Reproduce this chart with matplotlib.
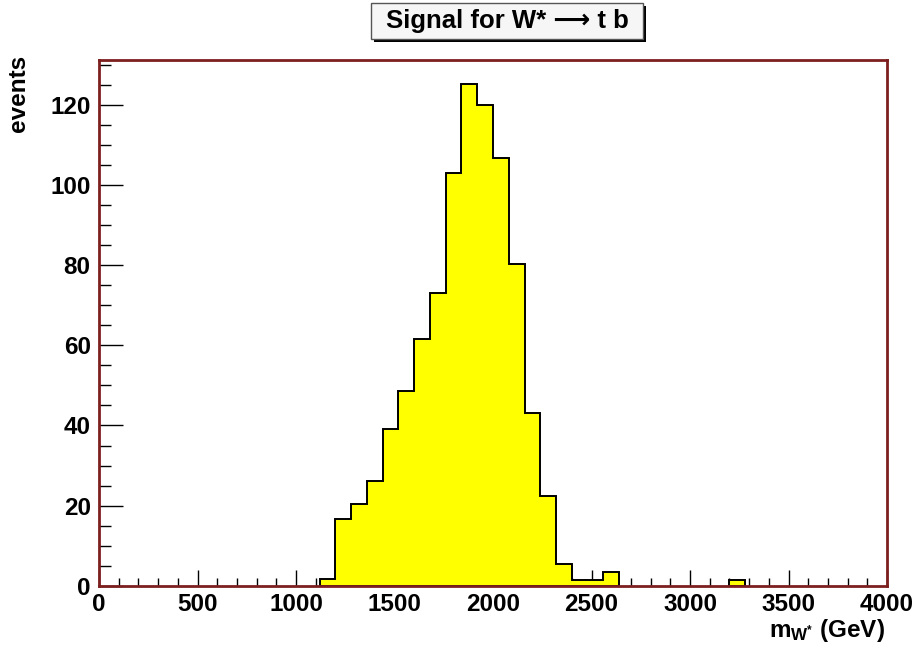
import numpy as np
import matplotlib
matplotlib.use("Agg")
import matplotlib.pyplot as plt
from matplotlib.patches import Rectangle
from matplotlib.ticker import MultipleLocator

# ---- data ----
bin_edges = np.arange(0, 4001, 80)
counts = np.zeros(50)
counts[14:33] = [1.6, 16.7, 20.4, 26.2, 39.2, 48.6, 61.7, 73.2, 103.1, 125.3,
                 120.1, 106.8, 80.4, 43.0, 22.4, 5.4, 1.5, 1.5, 3.5]
counts[40] = 1.5
title_text = "Signal for W* \u27f6 t b"
ylabel_text = "events"
xlabel_text = r"m$_{\mathbf{W^{*}}}$ (GeV)"

plt.rcParams['font.family'] = ['Liberation Sans', 'DejaVu Sans']
plt.rcParams['font.weight'] = 'bold'
plt.rcParams['mathtext.fontset'] = 'custom'
plt.rcParams['mathtext.rm'] = 'Liberation Sans:bold'
plt.rcParams['mathtext.bf'] = 'Liberation Sans:bold'
plt.rcParams['mathtext.it'] = 'Liberation Sans:bold'

W, H = 915, 648
fig = plt.figure(figsize=(W / 100, H / 100), dpi=100)
fig.patch.set_facecolor('white')

left, right, top, bottom = 99, 887, 60, 585.7
ax = fig.add_axes([left / W, 1 - bottom / H, (right - left) / W, (bottom - top) / H])
ax.set_facecolor('white')

# filled histogram
ax.stairs(counts, bin_edges, fill=True, color='#ffff00', zorder=2)
# outline for contiguous non-zero runs
nz = counts > 0
i = 0
n = len(counts)
while i < n:
    if nz[i]:
        j = i
        while j + 1 < n and nz[j + 1]:
            j += 1
        xs = [bin_edges[i]]
        ys = [0]
        for k in range(i, j + 1):
            xs += [bin_edges[k], bin_edges[k + 1]]
            ys += [counts[k], counts[k]]
        xs += [bin_edges[j + 1], bin_edges[i]]
        ys += [0, 0]
        ax.plot(xs, ys, color='black', lw=1.4, zorder=3, solid_joinstyle='miter')
        i = j + 1
    else:
        i += 1

ax.set_xlim(0, 4000)
ax.set_ylim(0, 131.25)
ax.xaxis.set_major_locator(MultipleLocator(500))
ax.xaxis.set_minor_locator(MultipleLocator(100))
ax.yaxis.set_major_locator(MultipleLocator(20))
ax.yaxis.set_minor_locator(MultipleLocator(5))
fs = 17.5
ax.tick_params(axis='x', which='major', direction='in', length=11.4, width=1.0,
               color='black', labelsize=fs, pad=5)
ax.tick_params(axis='x', which='minor', direction='in', length=5.7, width=1.0, color='black')
ax.tick_params(axis='y', which='major', direction='in', length=17, width=1.0,
               color='black', labelsize=fs, pad=6)
ax.tick_params(axis='y', which='minor', direction='in', length=8.5, width=1.0, color='black')
for lab in ax.get_xticklabels() + ax.get_yticklabels():
    lab.set_fontweight('bold')
for sp in ax.spines.values():
    sp.set_color('#7d1f1f')
    sp.set_linewidth(2.0)
    sp.set_zorder(4)

# title box with shadow
bx0, bx1, by0, by1 = 371, 643, 3, 39
sh = 3
fig.patches.append(Rectangle(((bx0 + sh) / W, 1 - (by1 + sh) / H), (bx1 - bx0) / W, (by1 - by0) / H,
                             transform=fig.transFigure, facecolor='black', edgecolor='none', zorder=1))
fig.patches.append(Rectangle((bx0 / W, 1 - by1 / H), (bx1 - bx0) / W, (by1 - by0) / H,
                             transform=fig.transFigure, facecolor='#f6f6f6', edgecolor='#555555',
                             lw=1.0, zorder=2))
fig.text((bx0 + bx1) / 2 / W, 1 - (by0 + by1) / 2 / H, title_text, ha='center', va='center',
         fontsize=18.5, fontweight='bold', zorder=3)

fig.text(18 / W, 1 - 55 / H, ylabel_text, rotation=90, ha='center', va='top',
         fontsize=fs, fontweight='bold')
fig.text(885 / W, 1 - 630 / H, xlabel_text, ha='right', va='center',
         fontsize=fs, fontweight='bold')

fig.savefig('out.png', dpi=100, facecolor='white')
